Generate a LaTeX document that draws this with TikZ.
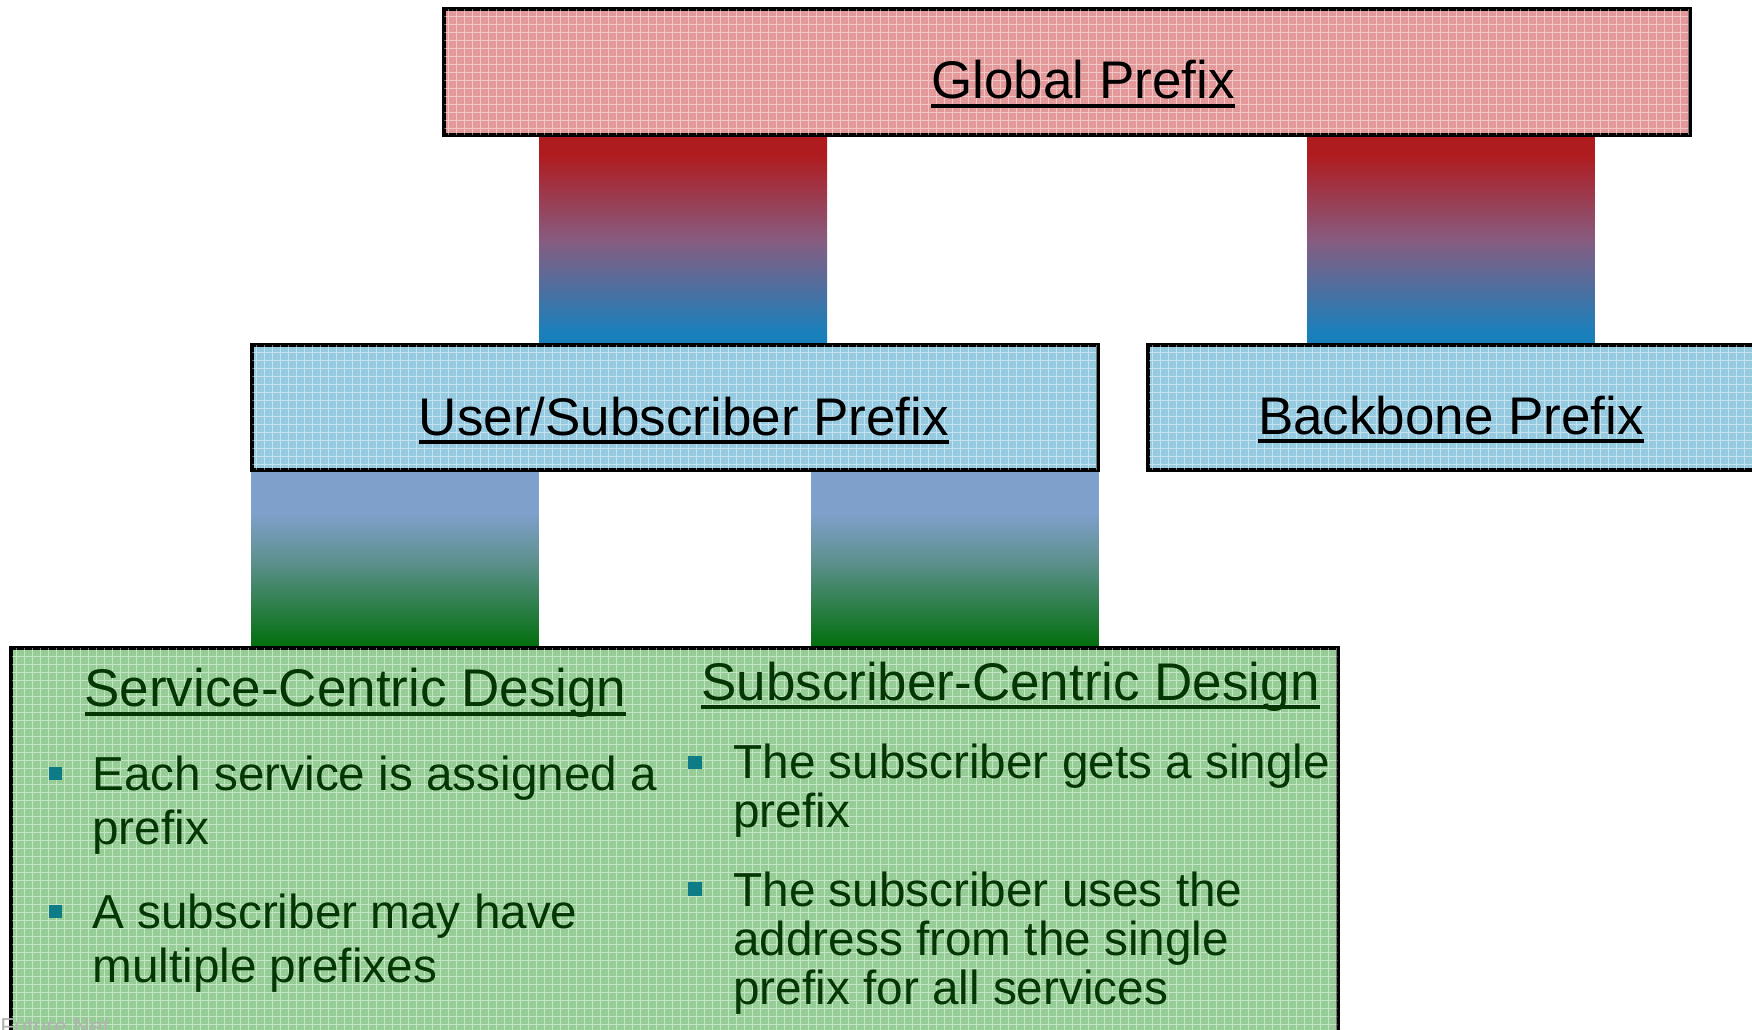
\documentclass[tikz,border=0pt]{standalone}
\usepackage{fontspec}
\setmainfont{Liberation Sans}
\usetikzlibrary{fit}

% fills of the prefix boxes
\definecolor{prefixred}{RGB}{227,153,153}
\definecolor{prefixblue}{RGB}{150,202,225}
\definecolor{prefixgreen}{RGB}{150,204,150}
% text and bullets inside the design box
\definecolor{designtext}{RGB}{5,55,5}
\definecolor{bulletteal}{RGB}{14,124,134}
\definecolor{markgray}{RGB}{178,178,178}
% colours of the joining bars
\definecolor{barred}{RGB}{175,28,32}
\definecolor{barmauve}{RGB}{135,92,128}
\definecolor{barblue}{RGB}{26,128,188}
\definecolor{barslate}{RGB}{128,160,204}
\definecolor{barteal}{RGB}{95,145,145}
\definecolor{bargreen}{RGB}{0,110,10}

% vertical blends; 25bp..75bp is stretched over the filled path
\pgfdeclareverticalshading{redtoblue}{100bp}{color(0bp)=(barblue); color(28bp)=(barblue);
  color(50bp)=(barmauve); color(70bp)=(barred); color(100bp)=(barred)}
\pgfdeclareverticalshading{slatetogreen}{100bp}{color(0bp)=(bargreen); color(25bp)=(bargreen);
  color(50bp)=(barteal); color(63bp)=(barslate); color(100bp)=(barslate)}

% underlined heading text, rule set just below the baseline
\newcommand\ulhead[1]{\setbox0\hbox{#1}\rlap{\rule[-4.65pt]{\wd0}{2pt}}\box0}

\tikzset{
  boxframe/.style={rectangle, draw=black, line width=1.35pt, inner sep=0pt},
  meshlines/.style={white, opacity=0.45, line width=0.5pt},
  heading/.style={font=\fontsize{26.5pt}{30pt}\selectfont, inner sep=0pt, anchor=base},
  designhead/.style={heading, text=designtext},
  bullettext/.style={text=designtext, inner sep=0pt, anchor=base west},
  leftcol/.style={bullettext, font=\fontsize{23.85pt}{27.3pt}\selectfont},
  rightcol/.style={bullettext, font=\fontsize{23.85pt}{24.5pt}\selectfont},
  bulletmark/.style={fill=bulletteal},
}

% light mesh laid over a box fill
\newcommand\meshover[2]{%
  \begin{scope}
    \clip (#1) rectangle (#2);
    \draw[meshlines, step=4pt] (#1) grid (#2);
  \end{scope}}

\begin{document}
\begin{tikzpicture}[x=0.5pt,y=-0.5pt]
\clip (0,0) rectangle (1752,1029);
\fill[white] (0,0) rectangle (1752,1029);

% corners of the four boxes
\coordinate (gNW) at (444.4,9.4);
\coordinate (gSE) at (1689.3,134.6);
\coordinate (uNW) at (252.4,345.4);
\coordinate (uSE) at (1097,469.6);
\coordinate (bNW) at (1149,345.4);
\coordinate (bSE) at (1775,469.6);
\coordinate (dNW) at (12,648.4);
\coordinate (dSE) at (1337.6,1060);

% joining bars between the levels
\shade[shading=redtoblue] (539.5,0 |- gSE) rectangle (827,0 |- uNW);
\shade[shading=redtoblue] (1307,0 |- gSE) rectangle (1594.5,0 |- uNW);
\shade[shading=slatetogreen] (251,0 |- uSE) rectangle (538.5,0 |- dNW);
\shade[shading=slatetogreen] (811,0 |- uSE) rectangle (1098.5,0 |- dNW);

% boxes
\node[boxframe, fill=prefixred, fit=(gNW)(gSE)] (global) {};
\meshover{gNW}{gSE}
\node[boxframe, fill=prefixblue, fit=(uNW)(uSE)] (user) {};
\meshover{uNW}{uSE}
\node[boxframe, fill=prefixblue, fit=(bNW)(bSE)] (backbone) {};
\meshover{bNW}{bSE}
\node[boxframe, fill=prefixgreen, fit=(dNW)(dSE)] (design) {};
\meshover{dNW}{dSE}
% frames again, above the mesh
\draw[line width=1.35pt] (global.north west) rectangle (global.south east)
  (user.north west) rectangle (user.south east)
  (backbone.north west) rectangle (backbone.south east)
  (design.north west) rectangle (design.south east);

% box titles
\node[heading] (globaltext) at (1083,98.5) {\ulhead{Global Prefix}};
\node[heading] (usertext) at (684,435) {\ulhead{User/Subscriber Prefix}};
\node[heading] (backbonetext) at (1451,434) {\ulhead{Backbone Prefix}};
\node[designhead] (servicehead) at (355.5,706.5) {\ulhead{Service-Centric Design}};
\node[designhead] (subscriberhead) at (1010.5,700) {\ulhead{Subscriber-Centric Design}};

% service-centric bullets
\fill[bulletmark] (48.7,767) rectangle (62,780);
\node[leftcol] (eachservice) at (92,790) {\parbox[t]{600pt}{Each service is assigned a\\prefix}};
\fill[bulletmark] (48.7,905) rectangle (62,918);
\node[leftcol] (multiple) at (92,928) {\parbox[t]{600pt}{A subscriber may have\\multiple prefixes}};

% subscriber-centric bullets
\fill[bulletmark] (688,755.5) rectangle (702,769);
\node[rightcol] (single) at (733,778) {\parbox[t]{600pt}{The subscriber gets a single\\prefix}};
\fill[bulletmark] (688,882) rectangle (702,896);
\node[rightcol] (allservices) at (733,906) {\parbox[t]{600pt}{The subscriber uses the\\address from the single\\prefix for all services}};

% footer mark
\node[anchor=base west, inner sep=0pt, text=markgray, font=\fontsize{11.5pt}{13pt}\selectfont] (footer) at (0,1034) {Future Net};
\end{tikzpicture}
\end{document}
